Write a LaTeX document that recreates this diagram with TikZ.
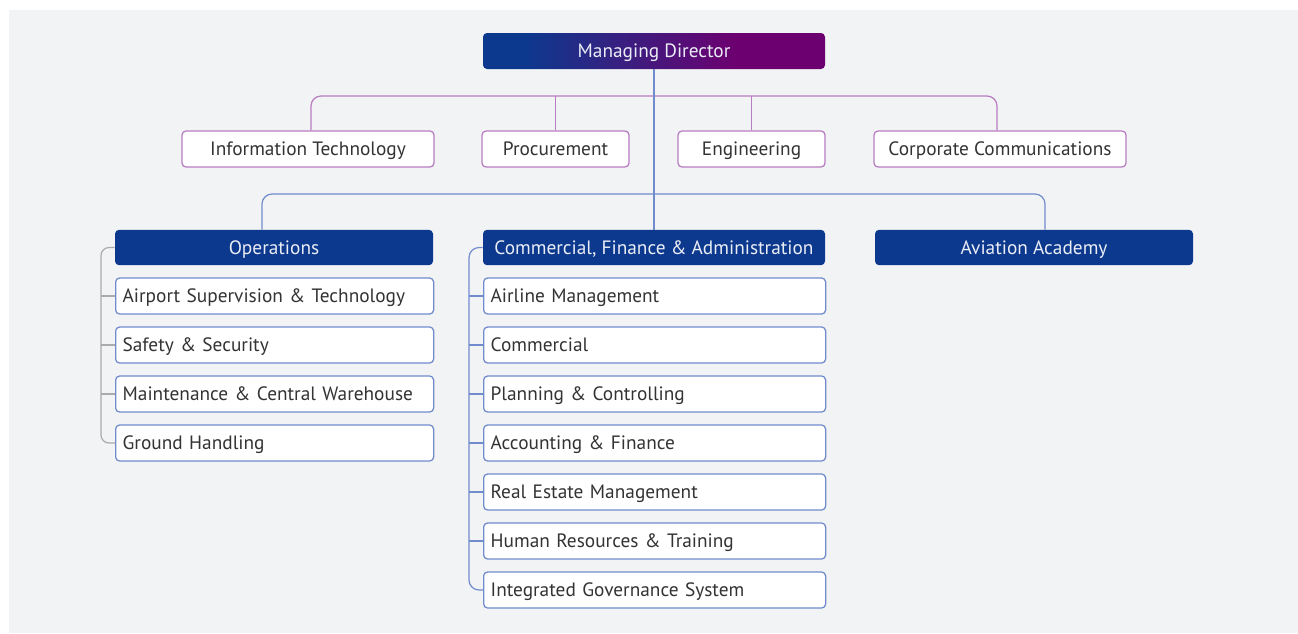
\documentclass[tikz,border=0pt]{standalone}
\usepackage{fontspec}
\setmainfont{PT Sans}
\usetikzlibrary{calc}

\definecolor{bggray}{RGB}{242,243,245}
\definecolor{navy}{RGB}{12,57,142}
\definecolor{plum}{RGB}{109,0,112}
\definecolor{plumline}{RGB}{184,124,194}
\definecolor{blueline}{RGB}{112,140,205}
\definecolor{railgray}{RGB}{170,170,172}
\definecolor{inktext}{RGB}{51,51,51}
\definecolor{headtext}{RGB}{234,237,245}

% navy on the left, fading into plum towards the right
\pgfdeclarehorizontalshading{mdshade}{100bp}{color(0bp)=(navy); color(31bp)=(navy); color(62bp)=(plum); color(100bp)=(plum)}

\begin{document}
\begin{tikzpicture}[
  x=0.75pt, y=-0.75pt,
  font=\fontsize{14.5}{17}\selectfont,
  basebox/.style={rounded corners=3pt, inner sep=0pt, minimum height=27pt,
                  text height=9.9pt, text depth=0pt},
  headbox/.style={basebox, fill=navy, text=headtext, minimum height=26.5pt},
  staffbox/.style={basebox, fill=white, draw=plumline, line width=0.95pt, text=inktext},
  unitbox/.style={basebox, fill=white, draw=blueline, line width=0.95pt, text=inktext,
                  anchor=west, align=left, inner xsep=5.25pt},
  opsunit/.style={unitbox, text width=228pt},
  cfaunit/.style={unitbox, text width=246pt},
  plumlink/.style={draw=plumline, line width=0.9pt, rounded corners=7.5pt},
  bluelink/.style={draw=blueline, line width=0.9pt, rounded corners=7.5pt},
  graylink/.style={draw=railgray, line width=0.9pt, rounded corners=6pt},
]
% canvas
\fill[white] (0,0) rectangle (1298,633);
\fill[bggray] (9,10) rectangle (1298,633);
\useasboundingbox (0,0) rectangle (1298,633);

% top of the tree
\node[basebox, shading=mdshade, text=headtext, minimum width=256.5pt] (md) at (654,51) {Managing Director};

% staff functions
\node[staffbox, minimum width=189pt]    (it)   at (308,149)   {Information Technology};
\node[staffbox, minimum width=110.25pt] (proc) at (555.5,149) {Procurement};
\node[staffbox, minimum width=110.25pt] (eng)  at (751.5,149) {Engineering};
\node[staffbox, minimum width=189pt]    (cc)   at (1000,149)  {Corporate Communications};

% divisions
\node[headbox, minimum width=238.5pt] (ops) at (274,247.5)  {Operations};
\node[headbox, minimum width=256.5pt] (cfa) at (654,247.5)  {Commercial, Finance \& Administration};
\node[headbox, minimum width=238.5pt] (aa)  at (1034,247.5) {Aviation Academy};

% operations units
\node[opsunit] (asup) at (115,296) {Airport Supervision \& Technology};
\node[opsunit] (safe) at (115,345) {Safety \& Security};
\node[opsunit] (mcw)  at (115,394) {Maintenance \& Central Warehouse};
\node[opsunit] (gh)   at (115,443) {Ground Handling};

% commercial, finance & administration units
\node[cfaunit] (alm)  at (483,296) {Airline Management};
\node[cfaunit] (com)  at (483,345) {Commercial};
\node[cfaunit] (plan) at (483,394) {Planning \& Controlling};
\node[cfaunit] (acc)  at (483,443) {Accounting \& Finance};
\node[cfaunit] (rem)  at (483,492) {Real Estate Management};
\node[cfaunit] (hr)   at (483,541) {Human Resources \& Training};
\node[cfaunit] (igs)  at (483,590) {Integrated Governance System};

% bus lines and rails
\coordinate (staffbus) at (654,96);
\coordinate (divbus)   at (654,194);
\coordinate (opsrail)  at (101,247.5);
\coordinate (cfarail)  at (469,247.5);

% staff connectors
\draw[plumlink] ($(it.north)+(3,0)$) |- (staffbus) -| ($(cc.north)+(-3,0)$);
\draw[plumlink] (proc.north) -- (proc.north |- staffbus);
\draw[plumlink] (eng.north) -- (eng.north |- staffbus);

% division connectors
\draw[bluelink] (md.south) -- (cfa.north);
\draw[bluelink] ($(ops.north)+(-12,0)$) |- (divbus) -| ($(aa.north)+(11,0)$);

% operations rail
\draw[graylink] (ops.west) -- (opsrail) |- (gh.west);
\foreach \u in {asup,safe,mcw}
  \draw[graylink] (\u.west) -- (\u.west -| opsrail);

% commercial rail
\draw[bluelink] (cfa.west) -- (cfarail) |- (igs.west);
\foreach \u in {alm,com,plan,acc,rem,hr}
  \draw[bluelink] (\u.west) -- (\u.west -| cfarail);
\end{tikzpicture}
\end{document}
